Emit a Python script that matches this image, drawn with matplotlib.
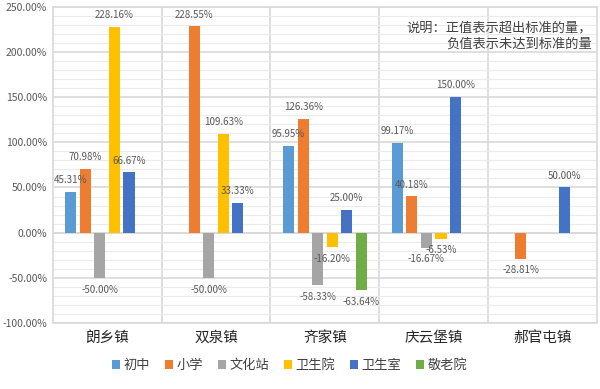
import numpy as np
import matplotlib
matplotlib.use("Agg")
import matplotlib.pyplot as plt
from matplotlib.ticker import MultipleLocator, FuncFormatter

plt.rcParams['font.family'] = ['Noto Sans CJK SC', 'DejaVu Sans']

# data (percent above / below standard)
towns = ['朗乡镇', '双泉镇', '齐家镇', '庆云堡镇', '郝官屯镇']
series = ['初中', '小学', '文化站', '卫生院', '卫生室', '敬老院']
chuzhong = [45.31, np.nan, 95.95, 99.17, np.nan]
xiaoxue = [70.98, 228.55, 126.36, 40.18, -28.81]
wenhuazhan = [-50.00, -50.00, -58.33, -16.67, np.nan]
weishengyuan = [228.16, 109.63, -16.20, -6.53, np.nan]
weishengshi = [66.67, 33.33, 25.00, 150.00, 50.00]
jinglaoyuan = [np.nan, np.nan, -63.64, np.nan, np.nan]
values = [chuzhong, xiaoxue, wenhuazhan, weishengyuan, weishengshi, jinglaoyuan]
colors = ['#5B9BD5', '#ED7D31', '#A5A5A5', '#FFC000', '#4472C4', '#70AD47']

fig = plt.figure(figsize=(6, 3.89), dpi=100)
ax = fig.add_axes([0.088, 0.17, 0.907, 0.812])

x = np.arange(len(towns))
slot = 0.8 / len(series)
for j, (name, vals, c) in enumerate(zip(series, values, colors)):
    xs = x - 0.4 + slot * (j + 0.5)
    vals = np.array(vals, dtype=float)
    ax.bar(xs, vals, width=slot * 0.76, color=c, label=name, zorder=3)
    for xi, v in zip(xs, vals):
        if np.isnan(v):
            continue
        off = 8.5 if v >= 0 else -8.5
        ax.annotate(f'{v:.2f}%', (xi, v), xytext=(0, off), textcoords='offset points',
                    ha='center', va='center', fontsize=7, color='#595959', zorder=4)

ax.set_xlim(-0.5, len(towns) - 0.5)
ax.set_ylim(-100, 250)
ax.yaxis.set_major_locator(MultipleLocator(50))
ax.yaxis.set_minor_locator(MultipleLocator(10))
ax.yaxis.set_major_formatter(FuncFormatter(lambda v, p: f'{v:.2f}%'))
ax.grid(axis='y', which='major', color='#D9D9D9', linewidth=1.2, zorder=0)
ax.grid(axis='y', which='minor', color='#EBEBEB', linewidth=0.8, zorder=0)
for b in x[:-1] + 0.5:
    ax.axvline(b, color='#D9D9D9', linewidth=1.2, zorder=1)
ax.axhline(0, color='#D9D9D9', linewidth=1.2, zorder=2)

ax.set_xticks(x)
ax.set_xticklabels(towns, fontsize=10.5, color='#262626')
ax.tick_params(axis='x', length=0, pad=6)
ax.tick_params(axis='y', which='both', length=0, labelsize=7.5, labelcolor='#595959', pad=4)
for s in ax.spines.values():
    s.set_color('#D9D9D9')
    s.set_linewidth(1.2)

ax.text(0.99, 0.955, '说明：正值表示超出标准的量，\n负值表示未达到标准的量',
        transform=ax.transAxes, ha='right', va='top', fontsize=9.5,
        color='#404040', linespacing=1.3, zorder=5)

fig.legend(loc='center', bbox_to_anchor=(0.483, 0.06), ncol=6, frameon=False,
           fontsize=9.5, handlelength=0.6, handleheight=0.6, handletextpad=0.3,
           columnspacing=1.1, labelcolor='#404040')

fig.savefig('out.png', dpi=100)
